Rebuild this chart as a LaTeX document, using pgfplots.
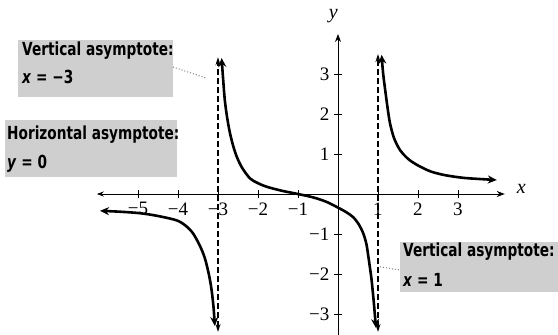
\documentclass[border=0pt]{standalone}
\usepackage{pgfplots}
\pgfplotsset{compat=1.18}
\usepackage{fontspec}
\setmainfont{Liberation Serif}
\newfontfamily\notefont[FakeStretch=0.76]{DejaVu Sans}
\usetikzlibrary{arrows.meta}

\begin{document}
\begin{tikzpicture}[x=1pt,y=1pt]
\useasboundingbox (-338,-141) rectangle (220,194);
\begin{axis}[
  at={(0,0)}, anchor=origin,
  x=40pt, y=40pt,
  xmin=-6.03, xmax=4.17, ymin=-3.55, ymax=4.0,
  axis lines=middle,
  clip=false,
  axis line style={line width=0.9pt},
  x axis line style={{Stealth[length=7pt,width=5pt]}-{Stealth[length=8pt,width=6pt]}},
  y axis line style={-{Stealth[length=8pt,width=6pt]}},
  xtick={-5,-4,-3,-2,-1,1,2,3},
  xticklabels={−5,−4,−3,−2,−1,1,2,3},
  ytick={-3,-2,-1,1,2,3},
  yticklabels={−3,−2,−1,1,2,3},
  tick align=center,
  major tick length=8pt,
  tick style={line width=0.9pt,black},
  tick label style={font=\fontsize{19}{19}\selectfont},
  xticklabel style={yshift=-1pt},
  yticklabel style={xshift=-1pt},
]

% callout boxes (drawn first, behind everything)
\fill[gray!38] (axis cs:-7.995,3.85) rectangle (axis cs:-4.125,2.425);
\fill[gray!38] (axis cs:-8.325,1.85) rectangle (axis cs:-4.025,0.425);
\fill[gray!38] (axis cs:1.55,-1.2) rectangle (axis cs:5.5,-2.45);

% asymptotes x = -3 and x = 1
\addplot[black, line width=1.2pt, dash pattern=on 6pt off 3pt,
  {Stealth[length=8pt,width=5pt]}-{Stealth[length=8pt,width=5pt]}]
  coordinates {(-3,-3.45) (-3,3.42)};
\addplot[black, line width=1.2pt, dash pattern=on 6pt off 3pt,
  {Stealth[length=8pt,width=5pt]}-{Stealth[length=8pt,width=5pt]}]
  coordinates {(1,-3.45) (1,3.5)};

% left branch
\addplot[black, line width=2.6pt, smooth, tension=0.5,
  {Stealth[length=9pt,width=8pt]}-{Stealth[length=9pt,width=8pt]}]
  coordinates {(-5.95,-0.42) (-5.5,-0.44) (-4.95,-0.48) (-4.5,-0.55)
    (-4.03,-0.66) (-3.8,-0.8) (-3.62,-0.99) (-3.45,-1.3) (-3.33,-1.6)
    (-3.23,-2.0) (-3.16,-2.4) (-3.11,-2.85) (-3.08,-3.3)};

% middle branch
\addplot[black, line width=2.6pt, smooth, tension=0.5,
  {Stealth[length=9pt,width=8pt]}-{Stealth[length=9pt,width=8pt]}]
  coordinates {(-2.91,3.4) (-2.87,2.85) (-2.83,2.35) (-2.77,1.9)
    (-2.7,1.52) (-2.62,1.2) (-2.53,0.93) (-2.4,0.66) (-2.2,0.39)
    (-2.0,0.27) (-1.78,0.18) (-1.4,0.08) (-1.0,0.0) (-0.6,-0.09)
    (-0.28,-0.2) (0,-0.34) (0.2,-0.45) (0.38,-0.58) (0.52,-0.76)
    (0.63,-0.98) (0.71,-1.25) (0.76,-1.57) (0.8,-1.85) (0.84,-2.15)
    (0.89,-2.65) (0.92,-3.0) (0.95,-3.35)};

% right branch
\addplot[black, line width=2.6pt, smooth, tension=0.5,
  {Stealth[length=9pt,width=8pt]}-{Stealth[length=9pt,width=8pt]}]
  coordinates {(1.09,3.48) (1.13,3.0) (1.18,2.6) (1.24,2.15) (1.3,1.77)
    (1.4,1.4) (1.55,1.1) (1.75,0.88) (1.97,0.73) (2.3,0.57) (2.63,0.48)
    (3.0,0.42) (3.3,0.39) (3.97,0.35)};

% axis names
\node[font=\fontsize{20}{20}\selectfont\itshape] at (axis cs:4.58,0.12) {x};
\node[font=\fontsize{20}{20}\selectfont\itshape] at (axis cs:-0.12,4.45) {y};

% callout text
\tikzset{note/.style={anchor=base west, inner sep=0pt,
  font=\notefont\bfseries\fontsize{18}{18}\selectfont}}
\node[note] at (axis cs:-7.9,3.475) {Vertical asymptote:};
\node[note] at (axis cs:-7.9,2.775) {\textit{x} = −3};
\node[note] at (axis cs:-8.275,1.375) {Horizontal asymptote:};
\node[note] at (axis cs:-8.275,0.65) {\textit{y} = 0};
\node[note] at (axis cs:1.625,-1.575) {Vertical asymptote:};
\node[note] at (axis cs:1.625,-2.325) {\textit{x} = 1};

% leader lines
\draw[gray, line width=1pt, dotted] (axis cs:-4.125,3.175) -- (axis cs:-3.3,2.9);
\draw[gray, line width=1pt, dotted] (axis cs:1.05,-1.82) -- (axis cs:1.55,-1.9);
\end{axis}
\end{tikzpicture}
\end{document}
